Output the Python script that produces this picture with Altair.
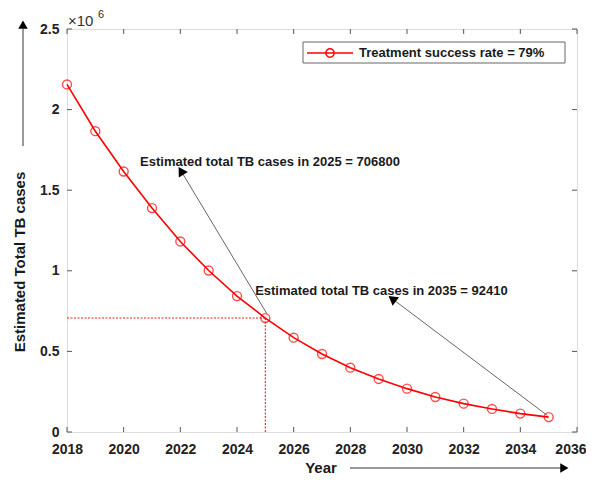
import altair as alt
import pandas as pd

# ---- data ----
years = list(range(2018, 2036))
cases = [2156000, 1866000, 1616000, 1389000, 1182000, 1002000, 843000, 706800,
         585000, 484000, 399000, 329000, 269000, 217000, 176000, 143000, 114000, 92410]
x_ticks = list(range(2018, 2037, 2))
y_ticks = [0, 500000, 1000000, 1500000, 2000000, 2500000]
legend_label = "Treatment success rate = 79%"
ann_text = ["Estimated total TB cases in 2025 = 706800",
            "Estimated total TB cases in 2035 =  92410"]
ann_text_x = [2020.58, 2024.64]
ann_text_y = [1678000, 872000]
arrow_from_x = [2025.05, 2034.95]
arrow_from_y = [735000, 103000]
arrow_to_x = [2022.05, 2029.52]
arrow_to_y = [1612000, 821000]
arrow_angle = [329, 307]
marked_year = 2025
marked_value = 706800

FONT = "Liberation Sans"
W, H = 510, 403

df = pd.DataFrame({"year": years, "cases": cases})
xscale = alt.Scale(domain=[2018, 2036], nice=False, zero=False)
yscale = alt.Scale(domain=[0, 2500000], nice=False)
xaxis = alt.Axis(values=x_ticks, format="d", title=None, grid=False, domain=False,
                 ticks=False, labelFont=FONT, labelFontWeight="bold", labelFontSize=14,
                 labelColor="#222222", labelPadding=10, labelFlush=False, labelBound=False,
                 labelOverlap=False,
                 labelAlign=alt.condition("datum.value == 2036", alt.value("right"),
                                          alt.value("center")),
                 labelOffset=alt.condition("datum.value == 2036", alt.value(9), alt.value(0)))
yaxis = alt.Axis(values=y_ticks, labelExpr="datum.value / 1000000", title=None, grid=False,
                 domain=False, ticks=False, labelFont=FONT, labelFontWeight="bold",
                 labelFontSize=14, labelColor="#222222", labelPadding=8, labelFlush=False,
                 labelOverlap=False)


def X(f):
    return alt.X(f, type="quantitative", scale=xscale, axis=xaxis)


def Y(f):
    return alt.Y(f, type="quantitative", scale=yscale, axis=yaxis)


line = alt.Chart(df).mark_line(color="#ff0000", strokeWidth=1.6).encode(x=X("year"), y=Y("cases"))
pts = alt.Chart(df).mark_point(shape="circle", filled=False, color="#ff0000", size=80,
                               strokeWidth=1.4).encode(x=X("year"), y=Y("cases"))

mk = pd.DataFrame({"x0": [2018], "x1": [marked_year], "y0": [0], "y1": [marked_value]})
hdot = alt.Chart(mk).mark_rule(color="#ff1a1a", strokeDash=[2, 1.5], strokeWidth=1.1).encode(
    x=X("x0"), x2="x1", y=Y("y1"))
vdot = alt.Chart(mk).mark_rule(color="#ff1a1a", strokeDash=[2, 1.5], strokeWidth=1.1).encode(
    x=X("x1"), y=Y("y0"), y2="y1")

ann = pd.DataFrame({"tx": ann_text_x, "ty": ann_text_y, "t": ann_text,
                    "fx": arrow_from_x, "fy": arrow_from_y, "ax": arrow_to_x, "ay": arrow_to_y,
                    "ang": arrow_angle})
ann_lines = alt.Chart(ann).mark_rule(color="#555555", strokeWidth=0.9).encode(
    x=X("fx"), y=Y("fy"), x2="ax", y2="ay")
ann_heads = alt.Chart(ann).mark_point(shape="triangle", filled=True, color="#000000", size=110,
                                      opacity=1).encode(
    x=X("ax"), y=Y("ay"), angle=alt.Angle("ang:Q", scale=None))
ann_txt = alt.Chart(ann).mark_text(align="left", baseline="middle", font=FONT, fontWeight="bold",
                                   fontSize=13, color="#1a1a1a").encode(
    x=X("tx"), y=Y("ty"), text="t:N")

# inward ticks
xt = pd.DataFrame({"v": x_ticks})
yt = pd.DataFrame({"v": y_ticks})
tc = "#555555"
xt_bot = alt.Chart(xt).mark_rule(color=tc, strokeWidth=1).encode(
    x=X("v"), y=alt.value(H), y2=alt.value(H - 5))
xt_top = alt.Chart(xt).mark_rule(color=tc, strokeWidth=1).encode(
    x=X("v"), y=alt.value(0), y2=alt.value(5))
yt_l = alt.Chart(yt).mark_rule(color=tc, strokeWidth=1).encode(
    y=Y("v"), x=alt.value(0), x2=alt.value(5))
yt_r = alt.Chart(yt).mark_rule(color=tc, strokeWidth=1).encode(
    y=Y("v"), x=alt.value(W), x2=alt.value(W - 5))

one = pd.DataFrame({"a": [0]})
# legend box
leg_box = alt.Chart(one).mark_rect(fill="white", stroke="#666666", strokeWidth=1).encode(
    x=alt.value(236), x2=alt.value(498), y=alt.value(13), y2=alt.value(34))
leg_line = alt.Chart(one).mark_rule(color="#ff0000", strokeWidth=1.6).encode(
    x=alt.value(240), x2=alt.value(286), y=alt.value(24))
leg_pt = alt.Chart(one).mark_point(shape="circle", filled=False, color="#ff0000", size=70,
                                   strokeWidth=1.4, opacity=1).encode(
    x=alt.value(263), y=alt.value(24))
leg_txt = alt.Chart(pd.DataFrame({"t": [legend_label]})).mark_text(
    align="left", baseline="middle", font=FONT, fontWeight="bold", fontSize=13,
    color="#1a1a1a").encode(x=alt.value(292), y=alt.value(24), text="t:N")

# exponent label
exp1 = alt.Chart(pd.DataFrame({"t": ["×10"]})).mark_text(
    align="left", baseline="middle", font=FONT, fontSize=15, color="#333333").encode(
    x=alt.value(1), y=alt.value(-8), text="t:N")
exp2 = alt.Chart(pd.DataFrame({"t": ["6"]})).mark_text(
    align="left", baseline="middle", font=FONT, fontSize=11, color="#333333").encode(
    x=alt.value(31), y=alt.value(-14), text="t:N")

# axis titles with arrows
ytitle = alt.Chart(pd.DataFrame({"t": ["Estimated Total TB cases"]})).mark_text(
    angle=270, align="center", baseline="middle", font=FONT, fontWeight="bold", fontSize=15,
    color="#1a1a1a").encode(x=alt.value(-47), y=alt.value(233), text="t:N")
yarrow = alt.Chart(one).mark_rule(color="#333333", strokeWidth=1).encode(
    x=alt.value(-44), y=alt.value(117), y2=alt.value(0))
yhead = alt.Chart(one).mark_point(shape="triangle", filled=True, color="#000000", size=90,
                                  opacity=1).encode(x=alt.value(-44), y=alt.value(-3),
                                                    angle=alt.value(0))
xtitle = alt.Chart(pd.DataFrame({"t": ["Year"]})).mark_text(
    align="center", baseline="middle", font=FONT, fontWeight="bold", fontSize=15,
    color="#1a1a1a").encode(x=alt.value(254), y=alt.value(439), text="t:N")
xarrow = alt.Chart(one).mark_rule(color="#333333", strokeWidth=1).encode(
    x=alt.value(283), x2=alt.value(494), y=alt.value(439))
xhead = alt.Chart(one).mark_point(shape="triangle", filled=True, color="#000000", size=90,
                                  opacity=1).encode(x=alt.value(496), y=alt.value(439),
                                                    angle=alt.value(90))

chart = alt.layer(
    hdot, vdot, ann_lines, line, pts, ann_heads, ann_txt,
    xt_bot, xt_top, yt_l, yt_r,
    leg_box, leg_line, leg_pt, leg_txt, exp1, exp2,
    ytitle, yarrow, yhead, xtitle, xarrow, xhead,
).properties(
    width=W, height=H,
    padding={"left": 59, "top": 21, "right": 9, "bottom": 44},
    autosize=alt.AutoSizeParams(type="none"),
).configure_view(stroke="#555555", strokeWidth=1).configure(background="white")

chart.save("out.html", embed_options={"renderer": "svg", "actions": False})
